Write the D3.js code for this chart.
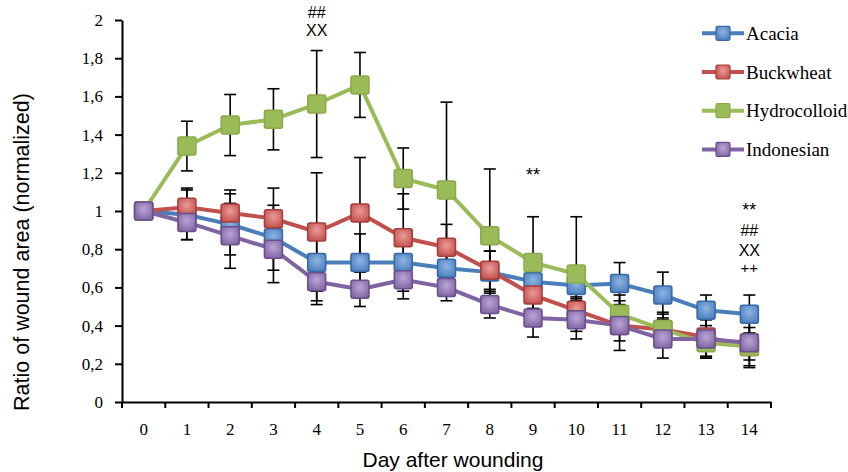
<!DOCTYPE html>
<html>
<head>
<meta charset="utf-8">
<script src="https://cdn.jsdelivr.net/npm/d3@7"></script>
<style>
  html, body { margin: 0; padding: 0; background: #fff; }
  svg { display: block; }
</style>
</head>
<body>
<svg id="chart" width="848" height="472"></svg>
<script>
// values
const days = [0, 1, 2, 3, 4, 5, 6, 7, 8, 9, 10, 11, 12, 13, 14];
const yTicks = [0, 0.2, 0.4, 0.6, 0.8, 1, 1.2, 1.4, 1.6, 1.8, 2];

const acacia       = [1.00, 0.98, 0.93, 0.86, 0.73, 0.73, 0.73, 0.70, 0.68, 0.63, 0.61, 0.62, 0.56, 0.48, 0.46];
const acaciaErr    = [0, 0.13, 0.16, 0.17, 0.20, 0.15, 0.15, 0.12, 0.11, 0.10, 0.07, 0.11, 0.12, 0.08, 0.10];
const buckwheat    = [1.00, 1.02, 0.99, 0.96, 0.89, 0.99, 0.86, 0.81, 0.69, 0.56, 0.48, 0.40, 0.38, 0.34, 0.29];
const buckwheatErr = [0, 0.10, 0.12, 0.16, 0.31, 0.29, 0.23, 0.12, 0.10, 0.08, 0.07, 0.08, 0.09, 0.11, 0.10];
const hydro        = [1.00, 1.34, 1.45, 1.48, 1.56, 1.66, 1.17, 1.11, 0.87, 0.73, 0.67, 0.46, 0.38, 0.31, 0.29];
const hydroErr     = [0, 0.13, 0.16, 0.16, 0.28, 0.17, 0.16, 0.46, 0.35, 0.24, 0.30, 0.10, 0.08, 0.07, 0.07];
const indo         = [1.00, 0.94, 0.87, 0.80, 0.63, 0.59, 0.64, 0.60, 0.51, 0.44, 0.43, 0.40, 0.33, 0.33, 0.31];
const indoErr      = [0, 0.09, 0.17, 0.175, 0.12, 0.09, 0.10, 0.07, 0.07, 0.10, 0.10, 0.13, 0.10, 0.10, 0.13];

const series = [
    {name: 'Acacia',       values: acacia,    err: acaciaErr,    color: '#4a7ebb', light: '#8fb4e3', dark: '#3868a6'},
    {name: 'Buckwheat',    values: buckwheat, err: buckwheatErr, color: '#c0504d', light: '#ec9a98', dark: '#a53e3b'},
    {name: 'Hydrocolloid', values: hydro,     err: hydroErr,     color: '#9bbb59', light: '#9bbb59', dark: '#8aaa4a'},
    {name: 'Indonesian',   values: indo,      err: indoErr,      color: '#8064a2', light: '#b9a5d6', dark: '#6a4f8c'},
];

const serif = "'Liberation Serif', 'DejaVu Serif', 'Times New Roman', serif";
const sans = "'Liberation Sans', Arial, sans-serif";

// significance marks: day, label, baseline in value units
const marks = [
    {day: 4,  text: '##', v: 2.013, size: 16},
    {day: 4,  text: 'XX', v: 1.918, size: 16},
    {day: 9,  text: '**', v: 1.157, size: 18},
    {day: 14, text: '**', v: 0.974, size: 18},
    {day: 14, text: '##', v: 0.869, size: 16},
    {day: 14, text: 'XX', v: 0.766, size: 16},
    {day: 14, text: '++', v: 0.675, size: 15},
];

const svg = d3.select('#chart');

const x = d3.scaleBand()
    .domain(days)
    .range([122, 771])
    .padding(0);
const cx = d => x(d) + x.bandwidth() / 2;

const y = d3.scaleLinear()
    .domain([0, 2])
    .range([402, 20]);

// gradients for the markers
const defs = svg.append('defs');
series.forEach((s, i) => {
    let g = defs.append('radialGradient')
        .attr('id', `grad-${i}`)
        .attr('cx', '50%').attr('cy', '40%').attr('r', '65%');
    g.append('stop').attr('offset', '0%').attr('stop-color', s.light);
    g.append('stop').attr('offset', '100%').attr('stop-color', s.color);
});

// axes
const xAxis = svg.append('g')
    .attr('transform', `translate(0,${y(0)})`)
    .call(d3.axisBottom(x).tickSize(0).tickPadding(21));
xAxis.attr('font-family', null);
xAxis.select('.domain').attr('stroke', '#000').attr('stroke-width', 2);
xAxis.selectAll('text').style('font-family', serif).attr('font-size', 17).attr('fill', '#000');

// x tick marks sit on the category boundaries
xAxis.selectAll('line.bound')
    .data(days.concat([null]))
    .enter()
    .append('line')
        .attr('class', 'bound')
        .attr('x1', d => d === null ? x.range()[1] : x(d))
        .attr('x2', d => d === null ? x.range()[1] : x(d))
        .attr('y1', 0)
        .attr('y2', 6)
        .attr('stroke', '#000')
        .attr('stroke-width', 2);

const fmt = v => String(+v.toFixed(1)).replace('.', ',');
const yAxis = svg.append('g')
    .attr('transform', `translate(${x.range()[0]},0)`)
    .call(d3.axisLeft(y).tickValues(yTicks).tickFormat(fmt).tickSize(7).tickSizeOuter(0).tickPadding(12));
yAxis.attr('font-family', null);
yAxis.select('.domain').attr('stroke', '#000').attr('stroke-width', 2);
yAxis.selectAll('line').attr('stroke', '#000').attr('stroke-width', 2);
yAxis.selectAll('text').style('font-family', serif).attr('font-size', 17).attr('fill', '#000');

// axis titles
svg.append('text')
    .attr('x', 453).attr('y', 467)
    .attr('text-anchor', 'middle')
    .style('font-family', sans).attr('font-size', 21)
    .text('Day after wounding');

svg.append('text')
    .attr('transform', 'translate(29,252) rotate(-90)')
    .attr('text-anchor', 'middle')
    .style('font-family', sans).attr('font-size', 21.5)
    .text('Ratio of wound area (normalized)');

// error bars
const errG = svg.append('g').attr('stroke', '#000').attr('stroke-width', 1.6);
series.forEach(s => {
    let pts = days.map((d, i) => ({d: d, v: s.values[i], e: s.err[i]})).filter(p => p.e > 0);
    let bar = errG.append('g').selectAll('g').data(pts).enter().append('g');
    bar.append('line')
        .attr('x1', p => cx(p.d)).attr('x2', p => cx(p.d))
        .attr('y1', p => y(p.v + p.e)).attr('y2', p => y(p.v - p.e));
    bar.append('line')
        .attr('x1', p => cx(p.d) - 6).attr('x2', p => cx(p.d) + 6)
        .attr('y1', p => y(p.v + p.e)).attr('y2', p => y(p.v + p.e));
    bar.append('line')
        .attr('x1', p => cx(p.d) - 6).attr('x2', p => cx(p.d) + 6)
        .attr('y1', p => y(p.v - p.e)).attr('y2', p => y(p.v - p.e));
});

// lines and markers
const line = d3.line().x(p => cx(p.d)).y(p => y(p.v));
series.forEach((s, i) => {
    let pts = days.map((d, j) => ({d: d, v: s.values[j]}));
    let g = svg.append('g');
    g.append('path')
        .attr('d', line(pts))
        .attr('fill', 'none')
        .attr('stroke', s.color)
        .attr('stroke-width', 4)
        .attr('stroke-linejoin', 'round');
    g.selectAll('rect')
        .data(pts)
        .enter()
        .append('rect')
            .attr('x', p => cx(p.d) - 9)
            .attr('y', p => y(p.v) - 9)
            .attr('width', 18).attr('height', 18)
            .attr('rx', 2)
            .attr('fill', `url(#grad-${i})`)
            .attr('stroke', s.dark)
            .attr('stroke-width', 1.5);
});

// significance labels
svg.append('g')
    .selectAll('text')
    .data(marks)
    .enter()
    .append('text')
        .attr('x', m => cx(m.day))
        .attr('y', m => y(m.v))
        .attr('text-anchor', 'middle')
        .style('font-family', sans)
        .attr('font-size', m => m.size)
        .attr('fill', '#000')
        .text(m => m.text);

// legend
const legend = svg.append('g')
    .selectAll('g')
    .data(series)
    .enter()
    .append('g')
        .attr('transform', (s, i) => `translate(702,${33.3 + i * 38.7})`);
legend.append('line')
    .attr('x1', 0).attr('x2', 42)
    .attr('stroke', s => s.color)
    .attr('stroke-width', 4);
legend.append('rect')
    .attr('x', 14).attr('y', -7)
    .attr('width', 14).attr('height', 14)
    .attr('rx', 1.5)
    .attr('fill', (s, i) => `url(#grad-${i})`)
    .attr('stroke', s => s.dark)
    .attr('stroke-width', 1.2);
legend.append('text')
    .attr('x', 44).attr('y', 6.5)
    .style('font-family', serif).attr('font-size', 19)
    .text(s => s.name);
</script>
</body>
</html>
